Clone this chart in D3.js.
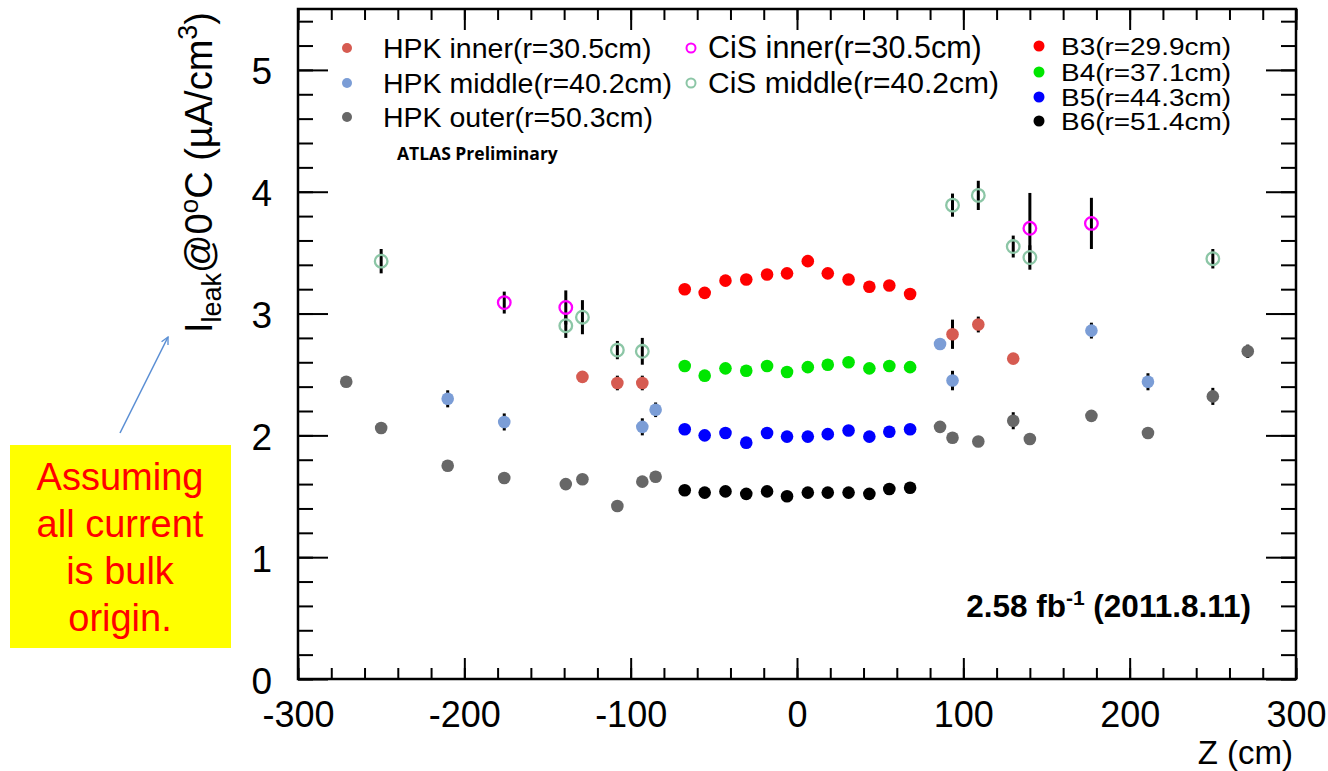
<!DOCTYPE html>
<html>
<head>
<meta charset="utf-8">
<script src="https://cdn.jsdelivr.net/npm/d3@7"></script>
<style>
  html, body { margin: 0; padding: 0; background: #ffffff; }
  svg { display: block; }
</style>
</head>
<body>
<svg id="chart" width="1328" height="771"></svg>
<script>
// ---- data: leakage current at 0°C vs. module Z position ----
const zBarrel = [-67.5, -55.5, -43, -30.5, -18, -6, 6.5, 18.5, 31, 43.5, 55.5, 68];
const b3 = [3.20, 3.17, 3.27, 3.28, 3.32, 3.33, 3.43, 3.33, 3.28, 3.22, 3.23, 3.16];
const b4 = [2.57, 2.49, 2.55, 2.53, 2.57, 2.52, 2.56, 2.58, 2.60, 2.55, 2.57, 2.56];
const b5 = [2.05, 2.00, 2.02, 1.94, 2.02, 1.99, 1.99, 2.01, 2.04, 1.99, 2.03, 2.05];
const b6 = [1.55, 1.53, 1.54, 1.52, 1.54, 1.50, 1.53, 1.53, 1.53, 1.52, 1.56, 1.57];

const hpkInnerZ   = [-129, -108, -93, 93.5, 109, 130];
const hpkInnerI   = [2.48, 2.43, 2.43, 2.83, 2.91, 2.63];
const hpkInnerErr = [0, 0.06, 0.06, 0.12, 0.065, 0];

const hpkMiddleZ   = [-210, -176, -93, -85, 86, 93.5, 177, 211];
const hpkMiddleI   = [2.30, 2.11, 2.07, 2.21, 2.75, 2.45, 2.86, 2.44];
const hpkMiddleErr = [0.07, 0.07, 0.07, 0.06, 0, 0.08, 0.065, 0.07];

const hpkOuterZ   = [-271, -250, -210, -176, -139, -129, -108, -93, -85, 86, 93.5, 109, 130, 140, 177, 211, 250, 271];
const hpkOuterI   = [2.44, 2.06, 1.75, 1.65, 1.60, 1.64, 1.42, 1.62, 1.66, 2.07, 1.98, 1.95, 2.12, 1.97, 2.16, 2.02, 2.32, 2.69];
const hpkOuterErr = [0, 0, 0, 0, 0, 0, 0, 0, 0, 0, 0, 0, 0.07, 0, 0, 0, 0.07, 0.055];

const cisInnerZ   = [-176, -139, 140, 177];
const cisInnerI   = [3.09, 3.05, 3.70, 3.74];
const cisInnerErr = [0.09, 0.14, 0.29, 0.21];

const cisMiddleZ   = [-250, -139, -129, -108, -93, 93.5, 109, 130, 140, 250];
const cisMiddleI   = [3.43, 2.90, 2.97, 2.70, 2.69, 3.89, 3.97, 3.55, 3.46, 3.45];
const cisMiddleErr = [0.10, 0.10, 0.14, 0.075, 0.11, 0.095, 0.12, 0.09, 0.10, 0.08];

const xMajorTicks = [-300, -200, -100, 0, 100, 200, 300];
const yMajorTicks = [0, 1, 2, 3, 4, 5];

// ---- layout ----
const svg = d3.select("#chart");
const frame = { left: 298, right: 1296, top: 9, bottom: 679 };
const x = d3.scaleLinear().domain([-300, 300]).range([frame.left, frame.right]);
const y = d3.scaleLinear().domain([0, 5.5]).range([frame.bottom, frame.top]);
const FONT = "'Liberation Sans', Arial, Helvetica, sans-serif";
const plainInt = d => String(d); // ASCII hyphen for negative labels

svg.append("rect").attr("width", 1328).attr("height", 771).attr("fill", "#ffffff");

// ---- axes: ticks on all four sides, pointing inward ----
const xMinor = d3.range(-300, 300.1, 20);
const yMinor = d3.range(0, 5.51, 0.2).map(v => +v.toFixed(2));

function tickAxis(axisFn, scale, values, size, transform) {
  const g = svg.append("g").attr("transform", transform)
    .call(axisFn(scale).tickValues(values).tickSize(size).tickFormat(""));
  g.select(".domain").remove();
  g.selectAll(".tick line").attr("stroke", "#000").attr("stroke-width", 2);
  return g;
}
tickAxis(d3.axisBottom, x, xMinor, -11, `translate(0,${frame.bottom})`);
tickAxis(d3.axisBottom, x, xMajorTicks, -21, `translate(0,${frame.bottom})`);
tickAxis(d3.axisTop, x, xMinor, -11, `translate(0,${frame.top})`);
tickAxis(d3.axisTop, x, xMajorTicks, -21, `translate(0,${frame.top})`);
tickAxis(d3.axisLeft, y, yMinor, -15, `translate(${frame.left},0)`);
tickAxis(d3.axisLeft, y, yMajorTicks, -30, `translate(${frame.left},0)`);
tickAxis(d3.axisRight, y, yMinor, -15, `translate(${frame.right},0)`);
tickAxis(d3.axisRight, y, yMajorTicks, -30, `translate(${frame.right},0)`);

// tick labels
const xLab = svg.append("g").attr("transform", `translate(0,${frame.bottom})`)
  .call(d3.axisBottom(x).tickValues(xMajorTicks).tickSize(0).tickPadding(22).tickFormat(plainInt));
xLab.select(".domain").remove();
xLab.selectAll("text").attr("font-family", FONT).attr("font-size", 36).attr("fill", "#000");

const yLab = svg.append("g").attr("transform", `translate(${frame.left},0)`)
  .call(d3.axisLeft(y).tickValues(yMajorTicks).tickSize(0).tickPadding(26).tickFormat(plainInt));
yLab.select(".domain").remove();
yLab.selectAll("text").attr("font-family", FONT).attr("font-size", 37).attr("fill", "#000").attr("dy", "0.38em");

// frame
svg.append("rect")
  .attr("x", frame.left).attr("y", frame.top)
  .attr("width", frame.right - frame.left).attr("height", frame.bottom - frame.top)
  .attr("fill", "none").attr("stroke", "#000").attr("stroke-width", 2.5);

// axis titles
svg.append("text")
  .attr("x", 1293).attr("y", 764).attr("text-anchor", "end")
  .attr("font-family", FONT).attr("font-size", 33).attr("fill", "#000")
  .text("Z (cm)");

const yt = svg.append("text")
  .attr("transform", "translate(212,12) rotate(-90)")
  .attr("text-anchor", "end")
  .attr("font-family", FONT).attr("font-size", 38).attr("fill", "#000");
yt.append("tspan").text("I");
yt.append("tspan").attr("font-size", 27).attr("dy", 9).text("leak");
yt.append("tspan").attr("dy", -9).text("@0");
yt.append("tspan").attr("font-size", 26).attr("dy", -14).text("o");
yt.append("tspan").attr("dy", 14).text("C (µA/cm");
yt.append("tspan").attr("font-size", 27).attr("dy", -15).text("3");
yt.append("tspan").attr("dy", 15).text(")");

// ---- series ----
const series = [
  { name: "HPK outer",  z: hpkOuterZ,  v: hpkOuterI,  e: hpkOuterErr,  color: "#676767", hollow: false },
  { name: "HPK middle", z: hpkMiddleZ, v: hpkMiddleI, e: hpkMiddleErr, color: "#7b9dd6", hollow: false },
  { name: "HPK inner",  z: hpkInnerZ,  v: hpkInnerI,  e: hpkInnerErr,  color: "#d65b51", hollow: false },
  { name: "CiS middle", z: cisMiddleZ, v: cisMiddleI, e: cisMiddleErr, color: "#8cc6a6", hollow: true },
  { name: "CiS inner",  z: cisInnerZ,  v: cisInnerI,  e: cisInnerErr,  color: "#ff00ff", hollow: true },
  { name: "B6", z: zBarrel, v: b6, e: zBarrel.map(() => 0), color: "#000000", hollow: false },
  { name: "B5", z: zBarrel, v: b5, e: zBarrel.map(() => 0), color: "#0000ff", hollow: false },
  { name: "B4", z: zBarrel, v: b4, e: zBarrel.map(() => 0), color: "#00e600", hollow: false },
  { name: "B3", z: zBarrel, v: b3, e: zBarrel.map(() => 0), color: "#ff0000", hollow: false }
];

const plot = svg.append("g");
// error bars below markers
series.forEach(s => {
  const pts = s.z.map((z, i) => ({ z, v: s.v[i], e: s.e[i] })).filter(d => d.e > 0);
  plot.append("g").selectAll("line").data(pts).join("line")
    .attr("x1", d => x(d.z)).attr("x2", d => x(d.z))
    .attr("y1", d => y(d.v - d.e)).attr("y2", d => y(d.v + d.e))
    .attr("stroke", "#000").attr("stroke-width", 3);
});
series.forEach(s => {
  const pts = s.z.map((z, i) => ({ z, v: s.v[i] }));
  plot.append("g").selectAll("circle").data(pts).join("circle")
    .attr("cx", d => x(d.z)).attr("cy", d => y(d.v))
    .attr("r", 6.3)
    .attr("fill", s.hollow ? "none" : s.color)
    .attr("stroke", s.hollow ? s.color : "none")
    .attr("stroke-width", s.hollow ? 2.3 : 0);
});

// ---- legends ----
const legLeft = [
  { label: "HPK inner(r=30.5cm)",  color: "#d65b51", hollow: false, mx: 347, tx: 383, cy: 48, fs: 28.5 },
  { label: "HPK middle(r=40.2cm)", color: "#7b9dd6", hollow: false, mx: 347, tx: 383, cy: 83, fs: 28.5 },
  { label: "HPK outer(r=50.3cm)",  color: "#676767", hollow: false, mx: 347, tx: 383, cy: 117, fs: 28.5 },
  { label: "CiS inner(r=30.5cm)",  color: "#ff00ff", hollow: true,  mx: 691, tx: 708, cy: 48, fs: 30.5 },
  { label: "CiS middle(r=40.2cm)", color: "#8cc6a6", hollow: true,  mx: 691, tx: 708, cy: 83, fs: 30 }
];
const legRight = [
  { label: "B3(r=29.9cm)", color: "#ff0000", cy: 46 },
  { label: "B4(r=37.1cm)", color: "#00e600", cy: 72 },
  { label: "B5(r=44.3cm)", color: "#0000ff", cy: 97 },
  { label: "B6(r=51.4cm)", color: "#000000", cy: 121 }
];

const lg = svg.append("g");
legLeft.forEach(d => {
  lg.append("circle").attr("cx", d.mx).attr("cy", d.cy).attr("r", d.hollow ? 4.5 : 5)
    .attr("fill", d.hollow ? "none" : d.color)
    .attr("stroke", d.hollow ? d.color : "none").attr("stroke-width", 2);
  lg.append("text").attr("x", d.tx).attr("y", d.cy + 10)
    .attr("font-family", FONT).attr("font-size", d.fs).attr("fill", "#000").text(d.label);
});
legRight.forEach(d => {
  lg.append("circle").attr("cx", 1039).attr("cy", d.cy).attr("r", 5.5).attr("fill", d.color);
  lg.append("text").attr("x", 1061).attr("y", d.cy + 8.5)
    .attr("font-family", FONT).attr("font-size", 23.5).attr("fill", "#000")
    .attr("textLength", 170).attr("lengthAdjust", "spacingAndGlyphs")
    .text(d.label);
});

svg.append("text").attr("x", 397).attr("y", 160)
  .attr("font-family", "'Open Sans', 'Liberation Sans', sans-serif").attr("font-weight", 700)
  .attr("font-size", 17.5).attr("fill", "#000").text("ATLAS Preliminary");

// luminosity label
const lum = svg.append("text").attr("x", 1251).attr("y", 617).attr("text-anchor", "end")
  .attr("font-family", FONT).attr("font-weight", 700).attr("font-size", 31.5).attr("fill", "#000");
lum.append("tspan").text("2.58 fb");
lum.append("tspan").attr("font-size", 21).attr("dy", -12).text("-1");
lum.append("tspan").attr("dy", 12).text(" (2011.8.11)");

// ---- annotation box and arrow ----
svg.append("rect").attr("x", 10).attr("y", 445).attr("width", 221).attr("height", 203).attr("fill", "#ffff00");
const noteLines = ["Assuming", "all current", "is bulk", "origin."];
svg.append("g").selectAll("text").data(noteLines).join("text")
  .attr("x", 120).attr("y", (d, i) => 490 + i * 47).attr("text-anchor", "middle")
  .attr("font-family", FONT).attr("font-size", 38).attr("fill", "#ff0000").text(d => d);

const defs = svg.append("defs");
defs.append("marker").attr("id", "openArrow").attr("viewBox", "0 0 10 10")
  .attr("refX", 9).attr("refY", 5).attr("markerWidth", 9).attr("markerHeight", 9)
  .attr("markerUnits", "userSpaceOnUse").attr("orient", "auto")
  .append("path").attr("d", "M1,1 L9,5 L1,9").attr("fill", "none")
  .attr("stroke", "#5b8fd4").attr("stroke-width", 1.5);
svg.append("line").attr("x1", 120).attr("y1", 433).attr("x2", 168).attr("y2", 337)
  .attr("stroke", "#5b8fd4").attr("stroke-width", 1.5).attr("marker-end", "url(#openArrow)");
</script>
</body>
</html>
